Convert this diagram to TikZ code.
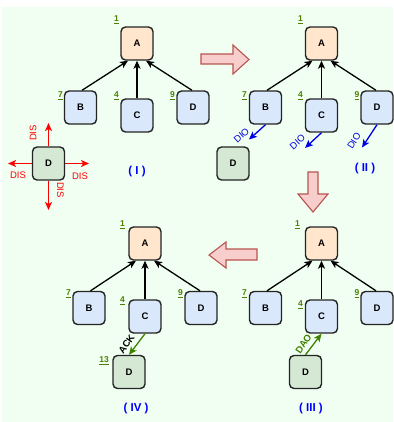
\documentclass[tikz,border=0pt]{standalone}
\usepackage{fontspec}
\setmainfont{Liberation Sans}
\usetikzlibrary{arrows.meta}
\definecolor{bg}{RGB}{240,255,242}
\definecolor{orangefill}{RGB}{255,230,204}
\definecolor{bluefill}{RGB}{218,232,252}
\definecolor{greenfill}{RGB}{213,232,212}
\definecolor{boxline}{RGB}{36,36,36}
\definecolor{numgreen}{RGB}{77,128,0}
\definecolor{arrowfill}{RGB}{248,206,204}
\definecolor{arrowline}{RGB}{184,84,80}
\definecolor{capblue}{RGB}{0,0,255}
\definecolor{dioblue}{RGB}{0,0,230}
\definecolor{ackgreen}{RGB}{64,128,0}
\begin{document}
\begin{tikzpicture}[x=1pt,y=-1pt,
  box/.style={draw=boxline, line width=1.4pt, rounded corners=4.5pt, minimum width=32pt, minimum height=33pt, inner sep=0pt, font=\bfseries\fontsize{9.5}{11}\selectfont},
  topbox/.style={box, fill=orangefill},
  midbox/.style={box, fill=bluefill},
  newbox/.style={box, fill=greenfill},
  num/.style={text=numgreen, inner sep=0pt, font=\bfseries\fontsize{8.5}{9}\selectfont},
  captext/.style={text=capblue, inner sep=0pt, font=\bfseries\fontsize{11.5}{13}\selectfont},
  link/.style={-{Stealth[length=8pt,width=7pt,inset=2pt]}, line width=1.3pt, draw=black},
  dis/.style={-{Stealth[length=8pt,width=7pt,inset=2pt]}, line width=1.4pt, draw=red},
  distext/.style={text=red, inner sep=0pt, font=\fontsize{9.5}{10}\selectfont},
  dio/.style={-{Stealth[length=8pt,width=7pt,inset=2pt]}, line width=1.3pt, draw=dioblue},
  diotext/.style={text=dioblue, inner sep=0pt, font=\fontsize{9.5}{10}\selectfont},
  ackline/.style={-{Stealth[length=8pt,width=7pt,inset=2pt]}, line width=1.3pt, draw=ackgreen},
  bigarrow/.style={draw=arrowline, fill=arrowfill, line width=1.1pt, line join=miter}
]
\useasboundingbox (0,0) rectangle (393,422);
\fill[bg] (2,7) rectangle (393,422);

% ---------- Panel I ----------
\node[topbox] (A1) at (137,43.5) {A};
\node[midbox] (B1) at (80.5,107.5) {B};
\node[midbox] (C1) at (137,115.5) {C};
\node[midbox] (D1) at (193,107.5) {D};
\node[num] (n1a) at (116.5,19.5) {\underline{1}};
\node[num] (n1b) at (60.5,95.5) {\underline{7}};
\node[num] (n1c) at (116.5,95.5) {\underline{4}};
\node[num] (n1d) at (172.5,95.5) {\underline{9}};
\draw[link] ([xshift=1.5pt]B1.north) -- ([xshift=-9pt]A1.south);
\draw[link] (C1.north) -- (A1.south);
\draw[link] ([xshift=-1pt]D1.north) -- ([xshift=9pt]A1.south);
\node[newbox] (N1) at (48.5,163.5) {D};
\coordinate (disU) at (48.5,123);
\coordinate (disL) at (8,163.5);
\coordinate (disR) at (89,163.5);
\coordinate (disD) at (48.5,210);
\draw[dis] (N1.north) -- (disU);
\draw[dis] (N1.west) -- (disL);
\draw[dis] (N1.east) -- (disR);
\draw[dis] (N1.south) -- (disD);
\node[distext, rotate=90] (tU) at (33,133) {DIS};
\node[distext] (tL) at (18,175) {DIS};
\node[distext] (tR) at (80,176) {DIS};
\node[distext, rotate=-90] (tD) at (60.5,190) {DIS};
\node[captext] (cap1) at (137,171.5) {( I )};

% ---------- Panel II ----------
\node[topbox] (A2) at (321.5,43.5) {A};
\node[midbox] (B2) at (265.5,107.5) {B};
\node[midbox] (C2) at (321.5,115.5) {C};
\node[midbox] (D2) at (377,107.5) {D};
\node[num] (n2a) at (300.5,19.5) {\underline{1}};
\node[num] (n2b) at (244.5,95.5) {\underline{7}};
\node[num] (n2c) at (300.5,95.5) {\underline{4}};
\node[num] (n2d) at (357,95.5) {\underline{9}};
\draw[link] ([xshift=1.5pt]B2.north) -- ([xshift=-9pt]A2.south);
\draw[link] (C2.north) -- (A2.south);
\draw[link] ([xshift=-1pt]D2.north) -- ([xshift=9pt]A2.south);
\node[newbox] (N2) at (233,163.5) {D};
\coordinate (dioB) at (249,139.5);
\coordinate (dioC) at (305,148);
\coordinate (dioD) at (362,147.5);
\draw[dio] (B2.south) -- (dioB);
\draw[dio] (C2.south) -- (dioC);
\draw[dio] (D2.south) -- (dioD);
\node[diotext, rotate=42] (tB) at (241.5,135.5) {DIO};
\node[diotext, rotate=42] (tC) at (297.5,142) {DIO};
\node[diotext, rotate=58] (tDD) at (354,141) {DIO};
\node[captext] (cap2) at (365,169) {( II )};

% ---------- Panel III ----------
\node[topbox] (A3) at (321.5,243.5) {A};
\node[midbox] (B3) at (265.5,308) {B};
\node[midbox] (C3) at (321.5,316.5) {C};
\node[midbox] (D3) at (377,308) {D};
\node[num] (n3a) at (297.5,225) {\underline{1}};
\node[num] (n3b) at (244.5,293.5) {\underline{7}};
\node[num] (n3c) at (300.5,305) {\underline{4}};
\node[num] (n3d) at (357,293.5) {\underline{9}};
\draw[link] ([xshift=1.5pt]B3.north) -- ([xshift=-9pt]A3.south);
\draw[link] (C3.north) -- (A3.south);
\draw[link] ([xshift=-1pt]D3.north) -- ([xshift=9pt]A3.south);
\node[newbox] (N3) at (305.5,372) {D};
\draw[ackline] (N3.north) -- (C3.south);
\node[text=ackgreen, inner sep=0pt, rotate=56, font=\bfseries\fontsize{9.5}{10}\selectfont] (tDAO) at (303.5,344) {DAO};
\node[captext] (cap3) at (311,409) {( III )};

% ---------- Panel IV ----------
\node[topbox] (A4) at (145,243.5) {A};
\node[midbox] (B4) at (89,308) {B};
\node[midbox] (C4) at (145,316.5) {C};
\node[midbox] (D4) at (201,308) {D};
\node[num] (n4a) at (122.5,225) {\underline{1}};
\node[num] (n4b) at (68.5,293.5) {\underline{7}};
\node[num] (n4c) at (122.5,300.5) {\underline{4}};
\node[num] (n4d) at (180.5,293.5) {\underline{9}};
\node[num] (n4e) at (104,361) {\underline{13}};
\draw[link] ([xshift=1.5pt]B4.north) -- ([xshift=-9pt]A4.south);
\draw[link] (C4.north) -- (A4.south);
\draw[link] ([xshift=-1pt]D4.north) -- ([xshift=9pt]A4.south);
\node[newbox] (N4) at (129,372) {D};
\draw[ackline] (C4.south) -- (N4.north);
\node[text=black, inner sep=0pt, rotate=55, font=\bfseries\fontsize{9.5}{10}\selectfont] (tACK) at (126.5,344) {ACK};
\node[captext] (cap4) at (136,409) {( IV )};

% ---------- big hollow arrows ----------
\draw[bigarrow] (201,54) -- (233,54) -- (233,45) -- (249,59.5) -- (233,74) -- (233,64) -- (201,64) -- cycle;
\draw[bigarrow] (308,172) -- (318,172) -- (318,194) -- (328,194) -- (313,212) -- (298,194) -- (308,194) -- cycle;
\draw[bigarrow] (257,249) -- (226,249) -- (226,242) -- (209,255) -- (226,268) -- (226,260) -- (257,260) -- cycle;
\end{tikzpicture}
\end{document}
